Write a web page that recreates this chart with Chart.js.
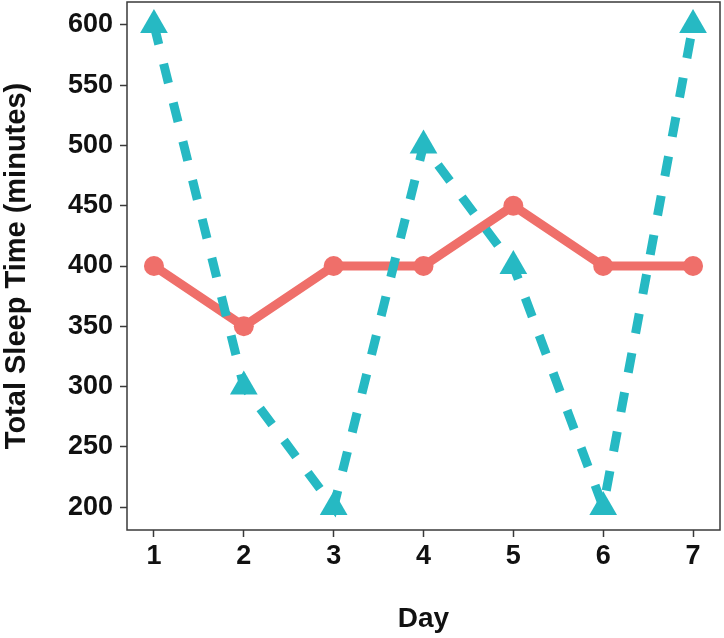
<!DOCTYPE html>
<html>
<head>
<meta charset="utf-8">
<script src="https://cdn.jsdelivr.net/npm/chart.js@4/dist/chart.umd.min.js"></script>
<style>
  html, body { margin: 0; padding: 0; background: #fff; }
  #wrap { width: 724px; height: 638px; position: relative; }
</style>
</head>
<body>
<div id="wrap"><canvas id="c" width="724" height="638"></canvas></div>
<script>
const days = [1, 2, 3, 4, 5, 6, 7];
const seriesSolid = [400, 350, 400, 400, 450, 400, 400];
const seriesDashed = [600, 300, 200, 500, 400, 200, 600];
const yTicks = [200, 250, 300, 350, 400, 450, 500, 550, 600];

const redColor = '#EF6F6A';
const tealColor = '#26B9C3';
const axisColor = '#3a3a3a';
const FONT = "'Liberation Sans', Arial, sans-serif";

const frame = {
  id: 'frame',
  afterDraw(chart) {
    const {ctx, chartArea: a} = chart;
    ctx.save();
    ctx.strokeStyle = axisColor;
    ctx.lineWidth = 1.5;
    ctx.strokeRect(a.left, a.top, a.right - a.left, a.bottom - a.top);
    ctx.restore();
  }
};

new Chart(document.getElementById('c'), {
  type: 'line',
  data: {
    datasets: [
      {
        label: 'solid',
        data: days.map((d, i) => ({x: d, y: seriesSolid[i]})),
        borderColor: redColor,
        backgroundColor: redColor,
        borderWidth: 9,
        pointStyle: 'circle',
        pointRadius: 10,
        pointHoverRadius: 10,
        pointBorderWidth: 0,
        tension: 0,
        order: 1
      },
      {
        label: 'dashed',
        data: days.map((d, i) => ({x: d, y: seriesDashed[i]})),
        borderColor: tealColor,
        backgroundColor: tealColor,
        borderWidth: 9,
        borderDash: [20, 20],
        borderCapStyle: 'butt',
        pointStyle: 'triangle',
        pointRadius: 16,
        pointHoverRadius: 16,
        pointBorderWidth: 0,
        tension: 0,
        order: 0
      }
    ]
  },
  options: {
    responsive: false,
    animation: false,
    events: [],
    layout: { autoPadding: false, padding: { top: 2, right: 4, left: 0, bottom: 0 } },
    plugins: { legend: { display: false }, tooltip: { enabled: false } },
    scales: {
      x: {
        type: 'linear',
        min: 0.7,
        max: 7.3,
        afterBuildTicks(scale) { scale.ticks = days.map(v => ({value: v})); },
        afterFit(scale) { scale.height = 108; scale.paddingLeft = 0; scale.paddingRight = 0; },
        grid: { drawOnChartArea: false, drawTicks: true, tickLength: 7, color: axisColor, tickWidth: 1.5 },
        border: { display: false },
        ticks: { color: '#111', padding: 3, font: { family: FONT, size: 27, weight: 'bold' }, maxRotation: 0 },
        title: { display: true, text: 'Day', color: '#111', padding: { top: 0, bottom: 2 }, font: { family: FONT, size: 28, weight: 'bold' } }
      },
      y: {
        type: 'linear',
        min: 181,
        max: 619,
        afterBuildTicks(scale) { scale.ticks = yTicks.map(v => ({value: v})); },
        afterFit(scale) { scale.width = 127; scale.paddingTop = 0; scale.paddingBottom = 0; },
        grid: { drawOnChartArea: false, drawTicks: true, tickLength: 7, color: axisColor, tickWidth: 1.5 },
        border: { display: false },
        ticks: { color: '#111', padding: 7, font: { family: FONT, size: 27, weight: 'bold' } },
        title: { display: true, text: 'Total Sleep Time (minutes)', color: '#111', padding: { top: 0, bottom: 0 }, font: { family: FONT, size: 29, weight: 'bold' } }
      }
    }
  },
  plugins: [frame]
});
</script>
</body>
</html>
